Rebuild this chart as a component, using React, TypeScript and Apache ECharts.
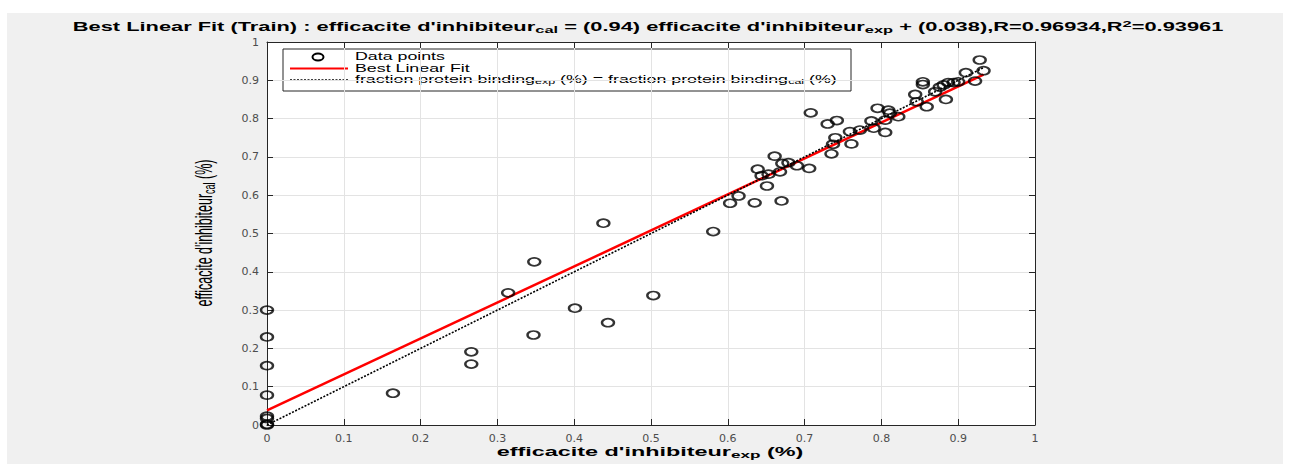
import React, { useEffect, useRef } from "react";
import * as echarts from "echarts";

// ---- data ----
const expValues: number[] = [
  0, 0, 0, 0, 0, 0, 0, 0,
  0.164, 0.266, 0.266, 0.314, 0.347, 0.348, 0.401, 0.438, 0.444, 0.503,
  0.581, 0.603, 0.614, 0.635, 0.670, 0.651,
  0.639, 0.644, 0.653, 0.661, 0.668, 0.671, 0.679, 0.690, 0.706,
  0.708, 0.730, 0.742, 0.740, 0.737, 0.735,
  0.759, 0.761, 0.772, 0.787, 0.790, 0.795, 0.805, 0.805, 0.809, 0.811, 0.822,
  0.844, 0.846, 0.854, 0.854, 0.859, 0.870, 0.876, 0.881, 0.884, 0.887, 0.894, 0.900, 0.910, 0.922, 0.928, 0.933,
];
const calValues: number[] = [
  0.002, 0.017, 0.023, 0.078, 0.155, 0.230, 0.300, 0.0,
  0.083, 0.191, 0.159, 0.345, 0.235, 0.426, 0.305, 0.527, 0.267, 0.338,
  0.505, 0.579, 0.598, 0.580, 0.585, 0.624,
  0.668, 0.651, 0.655, 0.702, 0.661, 0.683, 0.685, 0.677, 0.670,
  0.815, 0.786, 0.795, 0.750, 0.733, 0.708,
  0.766, 0.734, 0.770, 0.794, 0.775, 0.827, 0.764, 0.796, 0.822, 0.814, 0.805,
  0.863, 0.844, 0.896, 0.889, 0.831, 0.870, 0.882, 0.888, 0.850, 0.894, 0.894, 0.896, 0.920, 0.898, 0.953, 0.925,
];
const fitSlope = 0.94;
const fitIntercept = 0.038;
const xTicks: number[] = [0, 0.1, 0.2, 0.3, 0.4, 0.5, 0.6, 0.7, 0.8, 0.9, 1];

const titleText =
  "Best Linear Fit (Train) : efficacite d'inhibiteur{sub|cal} = (0.94) efficacite d'inhibiteur{sub|exp} + (0.038),R=0.96934,R{sup|2}=0.93961";
const xName = "efficacite d'inhibiteur{sub|exp} (%)";
const yName = "efficacite d'inhibiteur{sub|cal} (%)";
const legendNames: string[] = [
  "Data points",
  "Best Linear Fit",
  "fraction protein binding{sub|exp} (%) = fraction protein binding{sub|cal} (%)",
];

export default function App() {
  const ref = useRef<HTMLDivElement>(null);
  useEffect(() => {
    if (!ref.current) return;
    const chart = echarts.init(ref.current, undefined, { renderer: "svg" });
    const xMin = Math.min(...expValues);
    const xMax = Math.max(...expValues);
    const points = expValues.map((x, i) => [x, calValues[i]]);
    const fitLine = [xMin, xMax].map((x) => [x, fitSlope * x + fitIntercept]);
    const idLine = [xMin, xMax].map((x) => [x, x]);
    const font = "'Liberation Sans', Arial, Helvetica, sans-serif";
    const axisColor = "#262626";
    const gridColor = "#e3e3e3";
    const baseAxis = {
      type: "value",
      min: xTicks[0],
      max: xTicks[xTicks.length - 1],
      interval: 0.1,
    };
    const legendText = (y: number, text: string) => ({
      type: "text",
      x: 355,
      y,
      scaleX: 1.78,
      style: {
        text,
        fontFamily: font,
        fontSize: 10,
        lineHeight: 11,
        fill: "#000",
        verticalAlign: "middle",
        rich: {
          sub: { fontFamily: font, fontSize: 7, lineHeight: 7, verticalAlign: "bottom", fill: "#000" },
        },
      },
    });
    chart.setOption({
      animation: false,
      backgroundColor: "#ffffff",
      grid: {
        left: 267,
        right: 255,
        top: 42,
        bottom: 39,
        show: true,
        backgroundColor: "#ffffff",
        borderWidth: 0,
      },
      graphic: [
        {
          type: "rect",
          z: -10,
          silent: true,
          shape: { x: 7, y: 13, width: 1276, height: 451 },
          style: { fill: "#f0f0f0" },
        },
        {
          type: "text",
          z: 100,
          x: 648,
          y: 27,
          scaleX: 1.82,
          style: {
            text: titleText,
            fontFamily: font,
            fontWeight: "bold",
            fontSize: 12,
            lineHeight: 15,
            fill: "#000",
            align: "center",
            verticalAlign: "middle",
            rich: {
              sub: { fontFamily: font, fontWeight: "bold", fontSize: 9, lineHeight: 8, verticalAlign: "bottom", fill: "#000" },
              sup: { fontFamily: font, fontWeight: "bold", fontSize: 9, lineHeight: 8, verticalAlign: "top", fill: "#000" },
            },
          },
        },
        {
          type: "text",
          z: 100,
          x: 650,
          y: 452,
          scaleX: 1.8,
          style: {
            text: xName,
            fontFamily: font,
            fontWeight: "bold",
            fontSize: 13,
            lineHeight: 16,
            fill: "#000",
            align: "center",
            verticalAlign: "middle",
            rich: {
              sub: { fontFamily: font, fontWeight: "bold", fontSize: 9.5, lineHeight: 9, verticalAlign: "bottom", fill: "#000" },
            },
          },
        },
        {
          type: "text",
          z: 100,
          x: 204,
          y: 233,
          rotation: Math.PI / 2,
          scaleY: 1.9,
          style: {
            text: yName,
            fontFamily: font,
            fontSize: 12.5,
            lineHeight: 15,
            fill: "#000",
            align: "center",
            verticalAlign: "middle",
            rich: {
              sub: { fontFamily: font, fontSize: 9, lineHeight: 8, verticalAlign: "bottom", fill: "#000" },
            },
          },
        },
        {
          type: "group",
          z: 100,
          children: [
            {
              type: "rect",
              shape: { x: 283, y: 49, width: 568, height: 42 },
              style: { fill: "#ffffff", stroke: axisColor, lineWidth: 1 },
            },
            {
              type: "ellipse",
              shape: { cx: 318, cy: 57, rx: 5.5, ry: 3.5 },
              style: { fill: "none", stroke: "#000", lineWidth: 2 },
            },
            {
              type: "line",
              shape: { x1: 290, y1: 68.5, x2: 348, y2: 68.5 },
              style: { stroke: "#ff0000", lineWidth: 2 },
            },
            {
              type: "line",
              shape: { x1: 290, y1: 80, x2: 348, y2: 80 },
              style: { stroke: "#000", lineWidth: 1.5, lineDash: [2, 1.5] },
            },
            legendText(57, legendNames[0]),
            legendText(68.5, legendNames[1]),
            legendText(80, legendNames[2]),
          ],
        },
      ],
      xAxis: [
        {
          ...baseAxis,
          position: "bottom",
          axisLine: { show: true, lineStyle: { color: axisColor, width: 1 } },
          axisTick: { show: true, inside: true, length: 6, lineStyle: { color: axisColor } },
          axisLabel: { color: "#4d4d4d", fontFamily: "'DejaVu Sans', sans-serif", fontSize: 11, margin: 8 },
          splitLine: { show: true, lineStyle: { color: gridColor, width: 1 } },
        },
        {
          ...baseAxis,
          position: "top",
          axisLine: { show: true, onZero: false, lineStyle: { color: axisColor, width: 1 } },
          axisTick: { show: true, inside: true, length: 6, lineStyle: { color: axisColor } },
          axisLabel: { show: false },
          splitLine: { show: false },
        },
      ],
      yAxis: [
        {
          ...baseAxis,
          position: "left",
          axisLine: { show: true, onZero: false, lineStyle: { color: axisColor, width: 1 } },
          axisTick: { show: true, inside: true, length: 6, lineStyle: { color: axisColor } },
          axisLabel: { color: "#4d4d4d", fontFamily: "'DejaVu Sans', sans-serif", fontSize: 11, margin: 8 },
          splitLine: { show: true, lineStyle: { color: gridColor, width: 1 } },
        },
        {
          ...baseAxis,
          position: "right",
          axisLine: { show: true, onZero: false, lineStyle: { color: axisColor, width: 1 } },
          axisTick: { show: true, inside: true, length: 6, lineStyle: { color: axisColor } },
          axisLabel: { show: false },
          splitLine: { show: false },
        },
      ],
      series: [
        {
          name: "Best Linear Fit",
          type: "line",
          data: fitLine,
          symbol: "none",
          lineStyle: { color: "#ff0000", width: 2.5 },
          z: 3,
        },
        {
          name: "fraction protein binding",
          type: "line",
          data: idLine,
          symbol: "none",
          lineStyle: { color: "#000", width: 1.6, type: [2, 1.5] },
          z: 4,
        },
        {
          name: "Data points",
          type: "scatter",
          data: points,
          symbol: "circle",
          symbolSize: [12, 8],
          itemStyle: { color: "rgba(0,0,0,0)", borderColor: "#000", borderWidth: 2 },
          z: 5,
        },
      ],
    });
    return () => chart.dispose();
  }, []);
  return (
    <div
      ref={ref}
      style={{ position: "fixed", left: 0, top: 0, width: 1290, height: 464 }}
    />
  );
}
